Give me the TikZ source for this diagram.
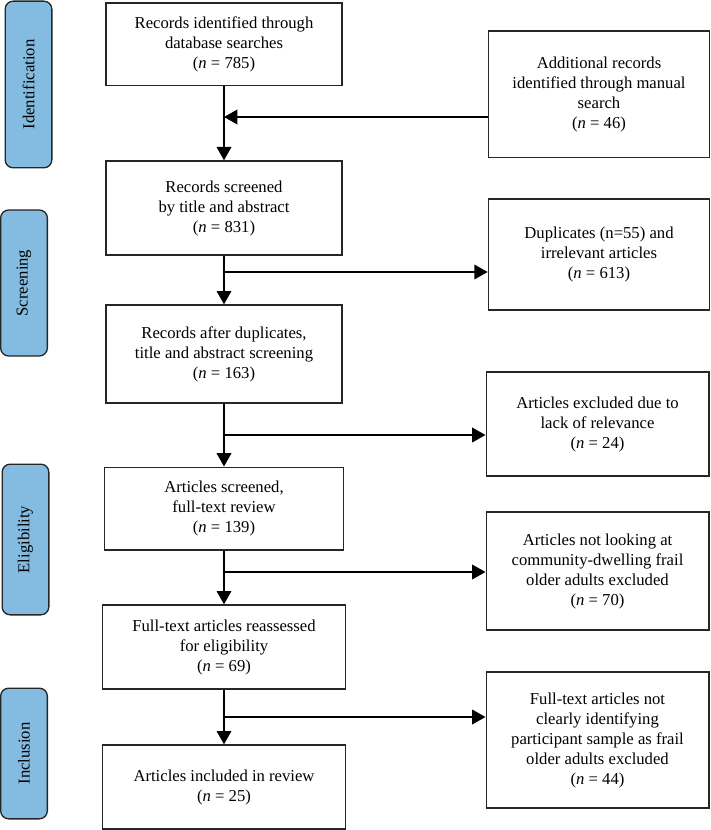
\documentclass[tikz,border=0pt]{standalone}
\usepackage{fontspec}
\setmainfont{Liberation Serif}
\usetikzlibrary{arrows.meta, positioning}
\definecolor{stageblue}{HTML}{84BBE0}

\begin{document}
\begin{tikzpicture}[x=0.75pt,y=-0.75pt,line width=1pt,>={Triangle[length=10pt,width=11pt]},font=\fontsize{12.5}{15}\selectfont]
    \tikzstyle{box}=[draw=black!85, align=center, inner sep=2pt]
    \tikzstyle{main box}=[box, minimum width=177pt]
    \tikzstyle{side box}=[box, minimum width=166pt]
    \tikzstyle{stage}=[draw=black!85, fill=stageblue, rounded corners=6pt, minimum height=35pt, rotate=90]

    \useasboundingbox (0,0) rectangle (710,830);

    % phases on the left
    \node[stage, minimum width=125pt] (S-1) at (28.5,84.5) {Identification};
    \node[stage, minimum width=109.5pt] (S-2) at (24,283) {Screening};
    \node[stage, minimum width=113pt] (S-3) at (25.5,539.5) {Eligibility};
    \node[stage, minimum width=98pt] (S-4) at (24,753.5) {Inclusion};

    % main column
    \node[main box, minimum height=62pt] (B-1) at (224,44.5) {Records identified through\\database searches\\(\textit{n} = 785)};
    \node[main box, minimum height=70.5pt] (B-2) at (224,208) {Records screened\\by title and abstract\\(\textit{n} = 831)};
    \node[main box, minimum height=73.5pt] (B-3) at (224,354) {Records after duplicates,\\title and abstract screening\\(\textit{n} = 163)};
    \node[main box, minimum width=179pt, minimum height=62pt] (B-4) at (224,508.5) {Articles screened,\\full-text review\\(\textit{n} = 139)};
    \node[main box, minimum width=182pt, minimum height=63pt] (B-5) at (224,647) {Full-text articles reassessed\\for eligibility\\(\textit{n} = 69)};
    \node[main box, minimum width=182pt, minimum height=63pt] (B-6) at (224,787) {Articles included in review\\(\textit{n} = 25)};

    % side column
    \node[side box, minimum height=95pt] (R-1) at (599,94.5) {Additional records\\identified through manual\\search\\(\textit{n} = 46)};
    \node[side box, minimum height=83pt] (R-2) at (599,254.5) {Duplicates (n=55) and\\irrelevant articles\\(\textit{n} = 613)};
    \node[side box, minimum width=167pt, minimum height=78pt] (R-3) at (597.5,424) {Articles excluded due to\\lack of relevance\\(\textit{n} = 24)};
    \node[side box, minimum width=167pt, minimum height=88.5pt] (R-4) at (597.5,571) {Articles not looking at\\community-dwelling frail\\older adults excluded\\(\textit{n} = 70)};
    \node[side box, minimum width=167pt, minimum height=102pt] (R-5) at (597.5,740) {Full-text articles not\\clearly identifying\\participant sample as frail\\older adults excluded\\(\textit{n} = 44)};

    \coordinate (J-1) at (224,117);
    \coordinate (J-2) at (224,272);
    \coordinate (J-3) at (224,435);
    \coordinate (J-4) at (224,572);
    \coordinate (J-5) at (224,717);

    \draw[->] (B-1) -- (B-2);
    \draw[->] (B-2) -- (B-3);
    \draw[->] (B-3) -- (B-4);
    \draw[->] (B-4) -- (B-5);
    \draw[->] (B-5) -- (B-6);

    \draw[->] (R-1.west |- J-1) -- (J-1);
    \draw[->] (J-2) -- (R-2.west |- J-2);
    \draw[->] (J-3) -- (R-3.west |- J-3);
    \draw[->] (J-4) -- (R-4.west |- J-4);
    \draw[->] (J-5) -- (R-5.west |- J-5);
\end{tikzpicture}
\end{document}
